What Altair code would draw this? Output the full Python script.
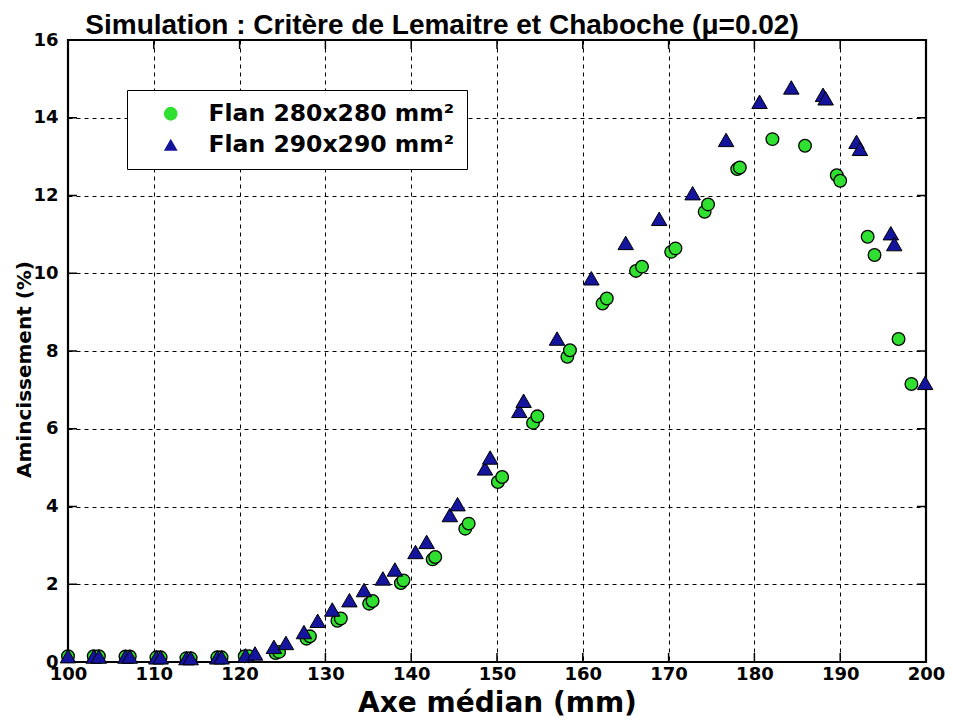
import altair as alt
import pandas as pd

SERIES = ["Flan 280x280 mm²", "Flan 290x290 mm²"]

C_X = [100.0, 103.0, 103.6, 106.7, 107.2, 110.3, 110.8, 113.8, 114.3, 117.4, 117.9,
       120.6, 121.1, 124.2, 124.6, 127.8, 128.2, 131.4, 131.8, 135.1, 135.5, 138.8,
       139.1, 142.5, 142.8, 146.3, 146.7, 150.1, 150.6, 154.2, 154.7, 158.2, 158.5,
       162.3, 162.8, 166.2, 166.9, 170.3, 170.8, 174.2, 174.6, 178.0, 178.3, 182.1,
       185.9, 189.6, 190.0, 193.2, 194.0, 196.8, 198.3]
C_Y = [0.15, 0.15, 0.15, 0.14, 0.14, 0.12, 0.12, 0.10, 0.10, 0.12, 0.12,
       0.15, 0.15, 0.23, 0.26, 0.60, 0.66, 1.06, 1.12, 1.50, 1.57, 2.03,
       2.10, 2.64, 2.70, 3.43, 3.56, 4.63, 4.76, 6.15, 6.32, 7.85, 8.02,
       9.22, 9.35, 10.06, 10.17, 10.55, 10.64, 11.58, 11.77, 12.68, 12.72, 13.45,
       13.28, 12.52, 12.38, 10.94, 10.47, 8.31, 7.15]

T_X = [100.0, 103.0, 103.6, 106.7, 107.2, 110.3, 110.8, 113.8, 114.3, 117.4, 117.9,
       120.7, 121.8, 124.0, 125.4, 127.5, 129.1, 130.8, 132.8, 134.5, 136.7, 138.1,
       140.5, 141.8, 144.5, 145.4, 148.6, 149.2, 152.6, 153.1, 157.0, 161.0, 165.0,
       168.9, 172.8, 176.7, 180.6, 184.3, 188.0, 188.3, 191.9, 192.3, 195.9, 196.3,
       199.9]
T_Y = [0.15, 0.14, 0.14, 0.14, 0.14, 0.12, 0.12, 0.10, 0.10, 0.12, 0.12,
       0.17, 0.22, 0.39, 0.49, 0.77, 1.06, 1.35, 1.59, 1.85, 2.15, 2.38,
       2.83, 3.09, 3.78, 4.06, 4.98, 5.26, 6.46, 6.72, 8.32, 9.87, 10.78,
       11.40, 12.06, 13.43, 14.41, 14.78, 14.59, 14.50, 13.38, 13.20, 11.03, 10.75,
       7.18]

X_TICKS = [100, 110, 120, 130, 140, 150, 160, 170, 180, 190, 200]
Y_TICKS = [0, 2, 4, 6, 8, 10, 12, 14, 16]

TITLE = "Simulation : Critère de Lemaitre et Chaboche (μ=0.02)"
X_TITLE = "Axe médian (mm)"
Y_TITLE = "Amincissement (%)"

GREEN = "#30e030"
BLUE = "#14149c"
W, H = 858, 622
TICK_LEN = 9
FONT = "DejaVu Sans"

df_c = pd.DataFrame({"x": C_X, "y": C_Y, "serie": SERIES[0]})
df_t = pd.DataFrame({"x": T_X, "y": T_Y, "serie": SERIES[1]})
df_xt = pd.DataFrame({"x": X_TICKS})
df_yt = pd.DataFrame({"y": Y_TICKS})

x_scale = alt.Scale(domain=[X_TICKS[0], X_TICKS[-1]], nice=False, zero=False)
y_scale = alt.Scale(domain=[Y_TICKS[0], Y_TICKS[-1]], nice=False, zero=False)

x_enc = alt.X("x:Q", scale=x_scale, title=X_TITLE,
              axis=alt.Axis(values=X_TICKS, labelPadding=3, titleY=49,
                            titleBaseline="alphabetic", titleFontSize=28))
y_enc = alt.Y("y:Q", scale=y_scale, title=Y_TITLE,
              axis=alt.Axis(values=Y_TICKS, labelPadding=10, titleX=-44, titleY=329,
                            titleBaseline="middle", titleFontSize=20))

legend = alt.Legend(title=None, orient="none", legendX=59, legendY=50,
                    strokeColor="black", fillColor="white", padding=12,
                    symbolOffset=20, labelOffset=26, rowPadding=6,
                    labelFont=FONT, labelFontSize=23.5, labelFontWeight="bold",
                    labelColor="black", symbolSize=190, symbolStrokeColor="black",
                    symbolStrokeWidth=1.3, labelLimit=400)

shape_enc = alt.Shape("serie:N", scale=alt.Scale(domain=SERIES, range=["circle", "triangle-up"]),
                      legend=legend)
fill_enc = alt.Fill("serie:N", scale=alt.Scale(domain=SERIES, range=[GREEN, BLUE]), legend=legend)

circles = alt.Chart(df_c).mark_point(filled=True, opacity=1, stroke="black", strokeWidth=1.3,
                                     size=160).encode(x=x_enc, y=y_enc, shape=shape_enc, fill=fill_enc)
triangles = alt.Chart(df_t).mark_point(filled=True, opacity=1, stroke="black", strokeWidth=1.0,
                                       size=240).encode(x=x_enc, y=y_enc, shape=shape_enc, fill=fill_enc)

tick_style = dict(color="black", strokeWidth=1.5)
xt_bottom = alt.Chart(df_xt).mark_rule(**tick_style).encode(x=x_enc, y=alt.value(H), y2=alt.value(H - TICK_LEN))
xt_top = alt.Chart(df_xt).mark_rule(**tick_style).encode(x=x_enc, y=alt.value(0), y2=alt.value(TICK_LEN))
yt_left = alt.Chart(df_yt).mark_rule(**tick_style).encode(y=y_enc, x=alt.value(0), x2=alt.value(TICK_LEN))
yt_right = alt.Chart(df_yt).mark_rule(**tick_style).encode(y=y_enc, x=alt.value(W), x2=alt.value(W - TICK_LEN))

chart = alt.layer(xt_bottom, xt_top, yt_left, yt_right, circles, triangles).properties(
    width=W, height=H,
    background="white",
    autosize=alt.AutoSizeParams(type="none"),
    padding={"left": 60, "top": 32, "right": 19, "bottom": 56},
    title=alt.TitleParams(TITLE, font="Liberation Sans", fontSize=28, fontWeight="bold",
                          color="black", anchor="middle", dx=-55, dy=17, offset=8),
).configure_view(stroke="black", strokeWidth=2.2).configure_axis(
    grid=True, gridDash=[4, 4], gridColor="black", gridWidth=1, gridOpacity=1,
    ticks=False, domain=False, labelFont=FONT, labelFontSize=18, labelFontWeight="bold",
    labelColor="black", titleFont=FONT, titleFontWeight="bold", titleColor="black",
    labelBound=False, labelFlush=False, labelOverlap=False,
)

chart.save("out.html", embed_options={"renderer": "svg", "actions": False})
